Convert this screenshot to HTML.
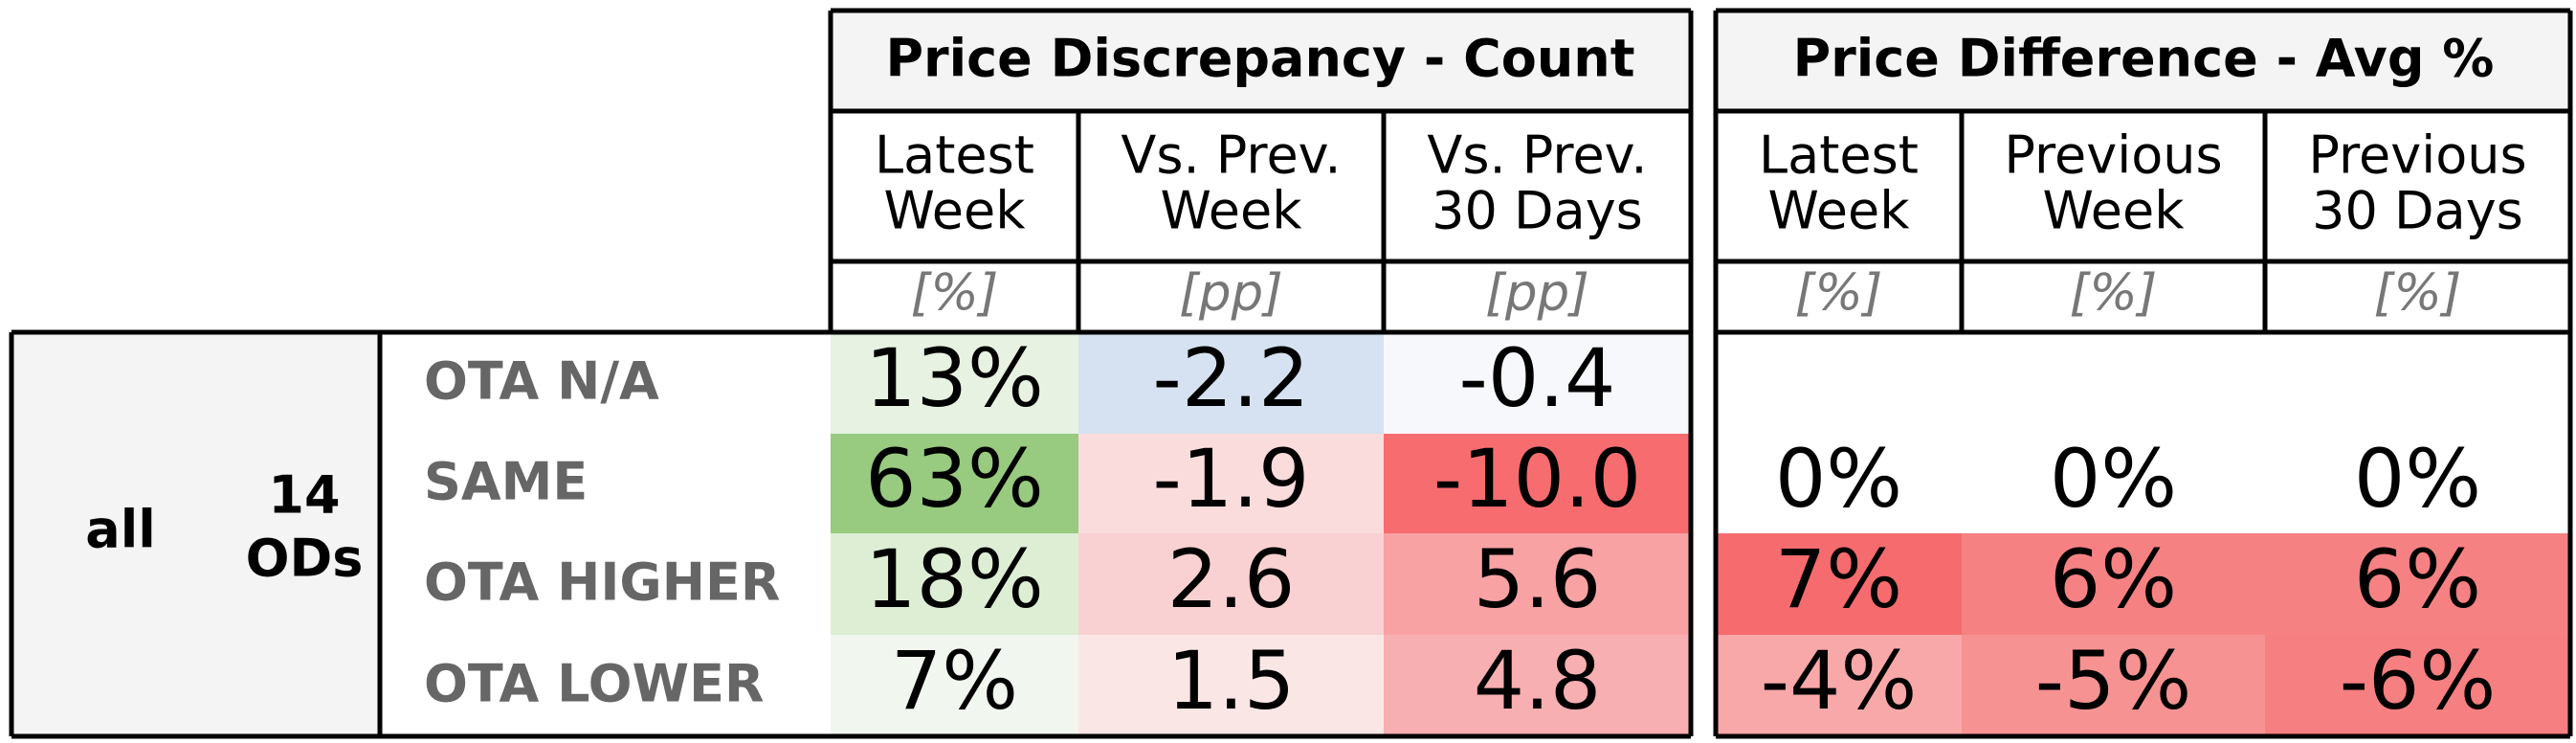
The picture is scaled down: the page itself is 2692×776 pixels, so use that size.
<!DOCTYPE html>
<html><head><meta charset="utf-8"><style>
html,body{margin:0;padding:0;background:#fff;}
svg{display:block;font-family:"DejaVu Sans","Liberation Sans",sans-serif;}
</style></head><body>
<svg id="chart" width="2692" height="776" viewBox="0 0 2692 776" xmlns="http://www.w3.org/2000/svg">
<g id="fills"></g>
<g id="texts"></g>
<g id="lines" stroke="#000" stroke-width="5" fill="none"></g>
</svg>
<script>
const rowLabels = ["OTA N/A","SAME","OTA HIGHER","OTA LOWER"];
const countCols = ["Latest|Week","Vs. Prev.|Week","Vs. Prev.|30 Days"];
const countUnits = ["[%]","[pp]","[pp]"];
const diffCols = ["Latest|Week","Previous|Week","Previous|30 Days"];
const diffUnits = ["[%]","[%]","[%]"];
const latestWeek = ["13%","63%","18%","7%"];
const vsPrevWeek = ["-2.2","-1.9","2.6","1.5"];
const vsPrev30 = ["-0.4","-10.0","5.6","4.8"];
const diffLatest = ["","0%","7%","-4%"];
const diffPrevWeek = ["","0%","6%","-5%"];
const diffPrev30 = ["","0%","6%","-6%"];
const countColors = [["#e7f2e2","#d6e2f1","#f6f8fc"],["#98ca7f","#fbdcdd","#f76c6f"],["#ddeed5","#fad1d2","#f8a2a4"],["#f1f7ee","#fbe6e6","#f8afb1"]];
const diffColors = [["#ffffff","#ffffff","#ffffff"],["#ffffff","#ffffff","#ffffff"],["#f56b6e","#f68183","#f68183"],["#f9a8aa","#f79293","#f67f81"]];

const NS="http://www.w3.org/2000/svg";
const fills=document.getElementById('fills'),texts=document.getElementById('texts'),lines=document.getElementById('lines');
const rowY=[347,453,557,663,769];
const lx=[868,1127,1446,1767], rx=[1793,2050,2367,2686];
function rect(p,x,y,w,h,f){const r=document.createElementNS(NS,'rect');r.setAttribute('x',x);r.setAttribute('y',y);r.setAttribute('width',w);r.setAttribute('height',h);r.setAttribute('fill',f);p.appendChild(r);return r;}
function txt(x,y,s,size,opt){const t=document.createElementNS(NS,'text');t.setAttribute('x',x);t.setAttribute('y',y);t.setAttribute('font-size',size);t.setAttribute('text-anchor',opt.anchor||'middle');t.setAttribute('dominant-baseline','central');if(opt.bold)t.setAttribute('font-weight','bold');if(opt.italic)t.setAttribute('font-style','italic');t.setAttribute('fill',opt.fill||'#000');t.textContent=s;texts.appendChild(t);return t;}
function line(x1,y1,x2,y2){const l=document.createElementNS(NS,'line');l.setAttribute('x1',x1);l.setAttribute('y1',y1);l.setAttribute('x2',x2);l.setAttribute('y2',y2);lines.appendChild(l);}

let r;
r=rect(fills,868,11,899,105,'#f4f4f4');

r=rect(fills,1793,11,893,105,'#f4f4f4');

r=rect(fills,12,347,385,422,'#f4f4f4');


let t=txt(1317,61,"Price Discrepancy - Count",54,{bold:true});

t=txt(2240,61,"Price Difference - Avg %",54,{bold:true});


function header(xs,cols,units,prefix){
  for(let i=0;i<cols.length;i++){
    const cx=(xs[i]+xs[i+1])/2; const parts=cols[i].split('|');
    let a=txt(cx,162,parts[0],54,{});
    
    let b=txt(cx,220,parts[1],54,{});
    
    let u=txt(cx,306,units[i],53,{italic:true,fill:'#777'});
    
  }
}
header(lx,countCols,countUnits,'count');
header(rx,diffCols,diffUnits,'diff');

t=txt(126,553,"all",54,{bold:true});

t=txt(318,517,"14",54,{bold:true});

t=txt(318,583,"ODs",54,{bold:true});


const countData=[latestWeek,vsPrevWeek,vsPrev30];
const diffData=[diffLatest,diffPrevWeek,diffPrev30];
for(let i=0;i<rowLabels.length;i++){
  const y0=rowY[i],y1=rowY[i+1],cy=(y0+y1)/2;
  let l=txt(443,cy-2,rowLabels[i],54,{bold:true,anchor:'start',fill:'#666'});
  
  for(let j=0;j<3;j++){
    let c=rect(fills,lx[j],y0,lx[j+1]-lx[j],y1-y0,countColors[i][j]);
    
    let v=txt((lx[j]+lx[j+1])/2,cy-5,countData[j][i],84,{});
    
    let d=rect(fills,rx[j],y0,rx[j+1]-rx[j],y1-y0,diffColors[i][j]);
    
    if(diffData[j][i]){
      let w=txt((rx[j]+rx[j+1])/2,cy-5,diffData[j][i],84,{});
      
    }
  }
}
line(868,11,1767,11);line(868,116,1767,116);line(868,273,1767,273);line(12,347,1767,347);line(12,769,1767,769);
line(12,347,12,769);line(397,347,397,769);line(1767,11,1767,769);line(868,11,868,347);
line(1127,116,1127,347);line(1446,116,1446,347);
line(1793,11,2686,11);line(1793,116,2686,116);line(1793,273,2686,273);line(1793,347,2686,347);line(1793,769,2686,769);
line(1793,11,1793,769);line(2686,11,2686,769);line(2050,116,2050,347);line(2367,116,2367,347);
</script>
</body></html>
